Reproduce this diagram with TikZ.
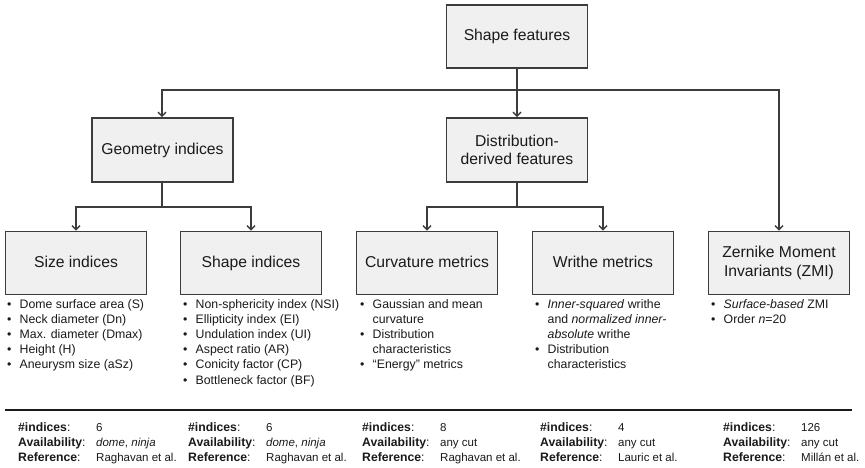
\documentclass[tikz,border=0pt]{standalone}
\usepackage{fontspec}
\setmainfont{Liberation Sans}
\usetikzlibrary{arrows.meta}
\definecolor{boxfill}{HTML}{F0F0F0}
\definecolor{edge}{HTML}{3C3C3C}
\definecolor{ink}{HTML}{1A1A1A}
% bullet line and its indented continuation
\newcommand\bitem[1]{\makebox[12.5pt][l]{\textbullet}#1}
\newcommand\bcont[1]{\hspace*{12.5pt}#1}
% one row of the summary table: bold label, value
\newcommand\trow[2]{\makebox[78pt][l]{{\fontsize{12.2}{14.8}\selectfont\textbf{#1}:}}#2}
\begin{document}
\begin{tikzpicture}[x=1pt,y=-1pt,
  box/.style={draw=edge, line width=1.8pt, fill=boxfill, minimum width=141pt,
    minimum height=63pt, inner sep=2pt, align=center,
    font=\fontsize{15.7}{18.5}\selectfont, text=ink},
  oneline/.style={text height=11.5pt, text depth=3.5pt},
  link/.style={draw=edge, line width=1.6pt},
  arr/.style={link, -{Straight Barb[length=4pt,width=8pt,line width=1.4pt]}},
  list/.style={anchor=north west, align=left, inner sep=0pt,
    font=\fontsize{12.3}{15.2}\selectfont, text=ink},
  tab/.style={anchor=north west, align=left, inner sep=0pt,
    font=\fontsize{11.5}{14.8}\selectfont, text=ink}]

\fill[white] (0,0) rectangle (865,467);
\useasboundingbox (0,0) rectangle (865,467);

% hierarchy boxes
\node[box, oneline] (top)   at (517,36.5) {Shape features};
\node[box, oneline, minimum height=64pt] (geo)  at (162.5,150) {Geometry indices};
\node[box, minimum height=64pt] (dist) at (517,150) {Distribution-\\derived features};
\node[box, oneline] (size)  at (76,263)  {Size indices};
\node[box, oneline] (shp)   at (251,263) {Shape indices};
\node[box, oneline] (curv)  at (427,263) {Curvature metrics};
\node[box, oneline] (wri)   at (603,263) {Writhe metrics};
\node[box] (zmi)   at (779,263) {Zernike Moment\\Invariants (ZMI)};

% junctions of the tree
\coordinate (j1) at (517,90);
\coordinate (j2) at (162,207);
\coordinate (j3) at (517,207);

\draw[link] (top.south) -- (j1);
\draw[arr] (j1) -| (geo.north -| j2);
\draw[arr] (j1) -- (dist.north);
\draw[arr] (j1) -| (zmi.north);

\draw[link] (geo.south -| j2) -- (j2);
\draw[arr] (j2) -| (size.north);
\draw[arr] (j2) -| (shp.north);

\draw[link] (dist.south) -- (j3);
\draw[arr] (j3) -| (curv.north);
\draw[arr] (j3) -| (wri.north);

% feature lists under each box
\node[list] (lsize) at (7,299) {%
  \bitem{Dome surface area (S)}\\
  \bitem{Neck diameter (Dn)}\\
  \bitem{Max. diameter (Dmax)}\\
  \bitem{Height (H)}\\
  \bitem{Aneurysm size (aSz)}};
\node[list] (lshp) at (183,299) {%
  \bitem{Non-sphericity index (NSI)}\\
  \bitem{Ellipticity index (EI)}\\
  \bitem{Undulation index (UI)}\\
  \bitem{Aspect ratio (AR)}\\
  \bitem{Conicity factor (CP)}\\
  \bitem{Bottleneck factor (BF)}};
\node[list] (lcurv) at (360,299) {%
  \bitem{Gaussian and mean}\\
  \bcont{curvature}\\
  \bitem{Distribution}\\
  \bcont{characteristics}\\
  \bitem{“Energy” metrics}};
\node[list] (lwri) at (535,299) {%
  \bitem{\textit{Inner-squared} writhe}\\
  \bcont{and \textit{normalized inner-}}\\
  \bcont{\textit{absolute} writhe}\\
  \bitem{Distribution}\\
  \bcont{characteristics}};
\node[list] (lzmi) at (711,299) {%
  \bitem{\textit{Surface-based} ZMI}\\
  \bitem{Order \textit{n}=20}};

% summary table
\coordinate (r0) at (5,410);
\coordinate (r1) at (852,410);
\draw[draw=ink, line width=1.5pt] (r0) -- (r1);

\node[tab] (t1) at (18,422.5) {%
  \trow{\#indices}{6}\\
  \trow{Availability}{\textit{dome}, \textit{ninja}}\\
  \trow{Reference}{Raghavan et al.}};
\node[tab] (t2) at (188,422.5) {%
  \trow{\#indices}{6}\\
  \trow{Availability}{\textit{dome}, \textit{ninja}}\\
  \trow{Reference}{Raghavan et al.}};
\node[tab] (t3) at (362,422.5) {%
  \trow{\#indices}{8}\\
  \trow{Availability}{any cut}\\
  \trow{Reference}{Raghavan et al.}};
\node[tab] (t4) at (540,422.5) {%
  \trow{\#indices}{4}\\
  \trow{Availability}{any cut}\\
  \trow{Reference}{Lauric et al.}};
\node[tab] (t5) at (723,422.5) {%
  \trow{\#indices}{126}\\
  \trow{Availability}{any cut}\\
  \trow{Reference}{Millán et al.}};
\end{tikzpicture}
\end{document}
